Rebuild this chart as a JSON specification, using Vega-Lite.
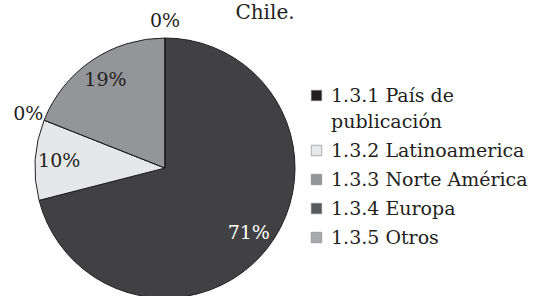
{
  "$schema": "https://vega.github.io/schema/vega-lite/v6.json",
  "width": 260,
  "height": 260,
  "autosize": {"type": "none"},
  "padding": {"left": 35, "top": 38, "right": 242, "bottom": 0},
  "background": "white",
  "config": {
    "view": {"stroke": null},
    "font": "DejaVu Serif",
    "legend": {"symbolOpacity": 1, "labelFont": "DejaVu Serif"},
    "title": {"font": "DejaVu Serif"}
  },
  "title": {
    "text": "Chile.",
    "fontSize": 20,
    "fontWeight": "normal",
    "font": "DejaVu Serif",
    "color": "#231f20",
    "anchor": "middle",
    "dx": 100,
    "offset": -11
  },
  "data": {
    "values": [
      {"categoria": "1.3.1 País de publicación", "valor": 0.71},
      {"categoria": "1.3.2 Latinoamerica", "valor": 0.10},
      {"categoria": "1.3.3 Norte América", "valor": 0.0},
      {"categoria": "1.3.4 Europa", "valor": 0.19},
      {"categoria": "1.3.5 Otros", "valor": 0.0}
    ]
  },
  "layer": [
    {
      "mark": {"type": "arc", "outerRadius": 130, "stroke": "#231f20", "strokeWidth": 1},
      "encoding": {
        "theta": {"field": "valor", "type": "quantitative", "stack": true},
        "order": {"field": "categoria", "type": "ordinal", "sort": "ascending"},
        "fill": {
          "field": "categoria",
          "type": "nominal",
          "scale": {"range": ["#414143", "#e6e7e8", "#939598", "#939598", "#a7a9ac"]},
          "legend": null
        }
      }
    },
    {
      "mark": {"type": "text", "radius": 106, "fontSize": 19, "font": "DejaVu Serif"},
      "encoding": {
        "theta": {"field": "valor", "type": "quantitative", "stack": true},
        "order": {"field": "categoria", "type": "ordinal", "sort": "ascending"},
        "detail": {"field": "categoria", "type": "nominal"},
        "text": {
          "condition": {"test": "datum.valor == 0", "value": ""},
          "field": "valor", "type": "quantitative", "format": ".0%"
        },
        "color": {"condition": {"test": "datum.valor > 0.5", "value": "#ffffff"}, "value": "#231f20"}
      }
    },
    {
      "mark": {"type": "text", "radius": 147, "fontSize": 19, "font": "DejaVu Serif"},
      "encoding": {
        "theta": {"field": "valor", "type": "quantitative", "stack": true},
        "order": {"field": "categoria", "type": "ordinal", "sort": "ascending"},
        "detail": {"field": "categoria", "type": "nominal"},
        "text": {
          "condition": {"test": "datum.valor != 0", "value": ""},
          "field": "valor", "type": "quantitative", "format": ".0%"
        },
        "color": {"value": "#231f20"}
      }
    },
    {
      "mark": {"type": "square", "size": 0, "opacity": 0, "filled": true},
      "encoding": {
        "color": {
          "field": "categoria",
          "type": "nominal",
          "scale": {"range": ["#231f20", "#e6e7e8", "#939598", "#58595b", "#a7a9ac"]},
          "legend": {
            "title": null,
            "orient": "none",
            "legendX": 272,
            "legendY": 48,
            "padding": 0,
            "symbolType": "square",
            "symbolSize": 110,
            "symbolOpacity": 1,
            "symbolStrokeColor": "#808080",
            "symbolStrokeWidth": 0.6,
            "labelFont": "DejaVu Serif",
            "labelFontSize": 19,
            "labelColor": "#231f20",
            "labelOffset": 5,
            "labelLimit": 300,
            "rowPadding": 9,
            "labelExpr": "datum.label == '1.3.1 País de publicación' ? ['1.3.1 País de', 'publicación'] : datum.label",
            "encode": {"labels": {"update": {"lineHeight": {"value": 26}, "font": {"value": "DejaVu Serif"}}}}
          }
        }
      }
    }
  ]
}
